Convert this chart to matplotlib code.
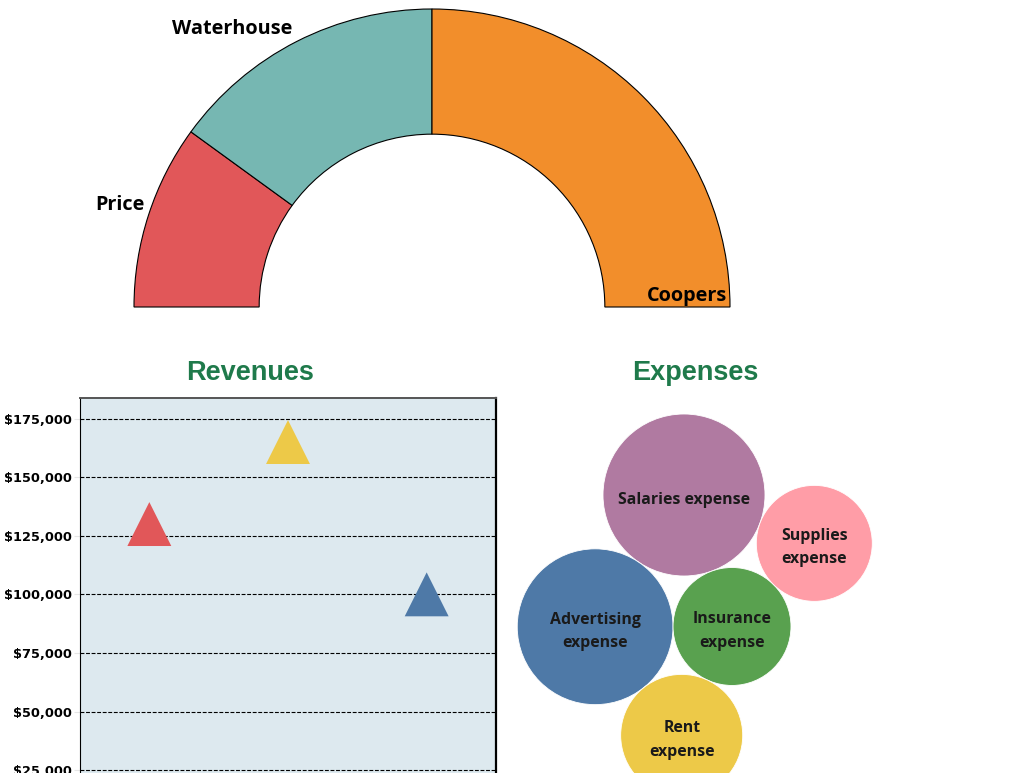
import numpy as np
import matplotlib

matplotlib.use("Agg")
import matplotlib.pyplot as plt
from matplotlib.patches import Circle
from matplotlib.ticker import FuncFormatter

# --- data -------------------------------------------------------------
firms = ["Price", "Waterhouse", "Coopers"]
firm_share = [20, 30, 50]
firm_colors = ["#e15759", "#76b7b2", "#f28e2b"]

revenue_items = ["Service revenue", "Consulting revenue", "Interest revenue"]
revenue_values = [130000, 165000, 100000]
revenue_colors = ["#e15759", "#edc948", "#4e79a7"]
revenue_ticks = [25000, 50000, 75000, 100000, 125000, 150000, 175000]

expense_items = ["Salaries expense", "Advertising expense", "Insurance expense",
                 "Rent expense", "Supplies expense"]
expense_labels = ["Salaries expense", "Advertising\nexpense", "Insurance\nexpense",
                  "Rent\nexpense", "Supplies\nexpense"]
expense_values = [40000, 37000, 21200, 22700, 20500]
expense_colors = ["#b07aa1", "#4e79a7", "#59a14f", "#edc948", "#ff9da7"]

GREEN = "#1f7a4b"
LABEL_FONT = ["Open Sans", "DejaVu Sans"]

fig = plt.figure(figsize=(10.24, 7.73), dpi=100)
W, H = 1024, 773


def px_axes(left, top, right, bottom):
    """Axes from pixel box (top-left origin)."""
    return fig.add_axes([left / W, (H - bottom) / H, (right - left) / W, (bottom - top) / H])


# --- half donut --------------------------------------------------------
ax_d = px_axes(132, 7, 732, 607)
wedges, _ = ax_d.pie(
    firm_share + [sum(firm_share)],
    colors=firm_colors + ["white"],
    startangle=180,
    counterclock=False,
    radius=1.0,
    wedgeprops=dict(width=0.42, edgecolor="black", linewidth=0.8),
)
wedges[-1].set_visible(False)
lim = 300 / 298
ax_d.set_xlim(-lim, lim)
ax_d.set_ylim(-lim, lim)
ax_d.set_aspect("equal")
ax_d.axis("off")

lbl = dict(fontsize=14.3, fontweight="bold", family=LABEL_FONT, color="black", va="center")
ax_d.text(-0.963, 0.342, firms[0], ha="right", **lbl)
ax_d.text(-0.671, 0.933, firms[1], ha="center", **lbl)
ax_d.text(0.99, 0.037, firms[2], ha="right", **lbl)

# --- revenues scatter --------------------------------------------------
fig.text(250 / W, (H - 373) / H, "Revenues", ha="center", va="center",
         fontsize=19.5, fontweight="bold", family="Liberation Sans", color=GREEN)

ax_r = px_axes(80, 397.5, 496, 828.7)
ax_r.set_facecolor("#dde9ef")
x = np.arange(len(revenue_items))
ax_r.scatter(x, revenue_values, marker="^", s=1000, c=revenue_colors, linewidths=0, zorder=3)
ax_r.set_xlim(-0.5, len(revenue_items) - 0.5)
ax_r.set_ylim(0, 184000)
ax_r.set_yticks(revenue_ticks)
ax_r.yaxis.set_major_formatter(FuncFormatter(lambda v, _: f"${v:,.0f}"))
ax_r.set_xticks([])
ax_r.grid(axis="y", color="black", linestyle=(0, (3.5, 1.5)), linewidth=0.8)
ax_r.set_axisbelow(True)
ax_r.tick_params(axis="y", length=4, color="#e6e6e6", pad=1.5, labelsize=9.3)
for t in ax_r.get_yticklabels():
    t.set_fontweight("bold")
    t.set_family("DejaVu Sans")
ax_r.spines["left"].set_color("black")
ax_r.spines["right"].set_color("black")
ax_r.spines["right"].set_linewidth(1.6)
ax_r.spines["top"].set_color("#555555")
ax_r.spines["top"].set_linewidth(1.4)
ax_r.spines["bottom"].set_visible(False)

# --- expenses packed bubbles -------------------------------------------
fig.text(695 / W, (H - 373) / H, "Expenses", ha="center", va="center",
         fontsize=19.5, fontweight="bold", family="Liberation Sans", color=GREEN)

ax_b = px_axes(0, 0, W, H)
ax_b.set_xlim(0, W)
ax_b.set_ylim(0, H)
ax_b.axis("off")

radii = [81 * np.sqrt(v / expense_values[0]) for v in expense_values]


def tangent(ca, ra, cb, rb, r, side):
    d_vec = np.subtract(cb, ca)
    d = np.hypot(*d_vec)
    u = d_vec / d
    da, db = ra + r, rb + r
    along = (da ** 2 - db ** 2 + d ** 2) / (2 * d)
    h = np.sqrt(max(da ** 2 - along ** 2, 0))
    perp = np.array([-u[1], u[0]])
    return np.asarray(ca) + along * u + side * h * perp


# packing: first circle anchored, second at an angle, rest tangent to two others
centers = [np.array([684.0, H - 495.0])]
ang = np.deg2rad(236)
centers.append(centers[0] + (radii[0] + radii[1]) * np.array([np.cos(ang), np.sin(ang)]))
pack = [(0, 1, 1), (1, 2, -1), (0, 2, 1)]  # (a, b, side) for circles 2, 3, 4
for i, (a, b, side) in enumerate(pack, start=2):
    centers.append(tangent(centers[a], radii[a], centers[b], radii[b], radii[i], side))

for c, r, col, lab in zip(centers, radii, expense_colors, expense_labels):
    ax_b.add_patch(Circle(c, r, facecolor=col, edgecolor="white", linewidth=0.6))
    ax_b.text(c[0], c[1] - 4.5, lab, ha="center", va="center", fontsize=11.4, fontweight="bold",
              family=LABEL_FONT, color="#1a1a1a", linespacing=1.6)

fig.savefig("out.png", dpi=100)
